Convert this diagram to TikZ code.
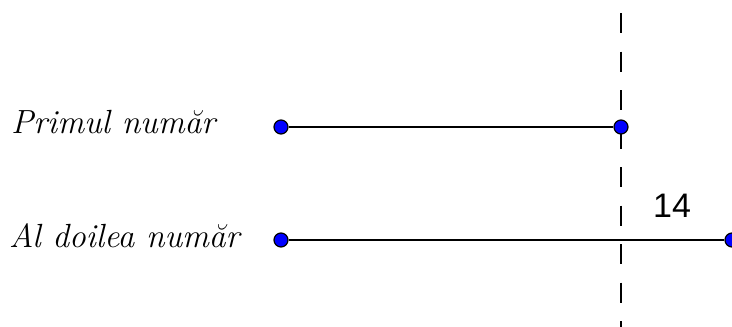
\documentclass[tikz,border=0pt]{standalone}
\usepackage{fontspec}
\newfontfamily\arialfont{Liberation Sans}
\begin{document}
\begin{tikzpicture}[x=1pt,y=-1pt,
  pt/.style={circle,fill=blue,draw=black,line width=1.2pt,inner sep=0pt,minimum size=14pt},
  seg/.style={line width=1.4pt,black},
  lbl/.style={font=\fontsize{33.5}{36}\selectfont\itshape,anchor=base west,inner sep=0pt}]
\useasboundingbox (0,0) rectangle (732,327);
\coordinate (top) at (621,13);
\coordinate (bot) at (621,327);
\draw[line width=1.4pt,dash pattern=on 20pt off 18.5pt] (top) -- (bot);
\node[pt] (A) at (281,127) {};
\node[pt] (B) at (621,127) {};
\node[pt] (C) at (281,240) {};
\node[pt] (D) at (732,240) {};
\draw[seg] (A) -- (B);
\draw[seg] (C) -- (D);
\node[lbl] (l1) at (11,133) {Primul număr};
\node[lbl] (l2) at (9,247) {Al doilea număr};
\node[font=\arialfont\fontsize{34}{36}\selectfont,anchor=base west,inner sep=0pt] (n) at (653,217) {14};
\end{tikzpicture}
\end{document}
